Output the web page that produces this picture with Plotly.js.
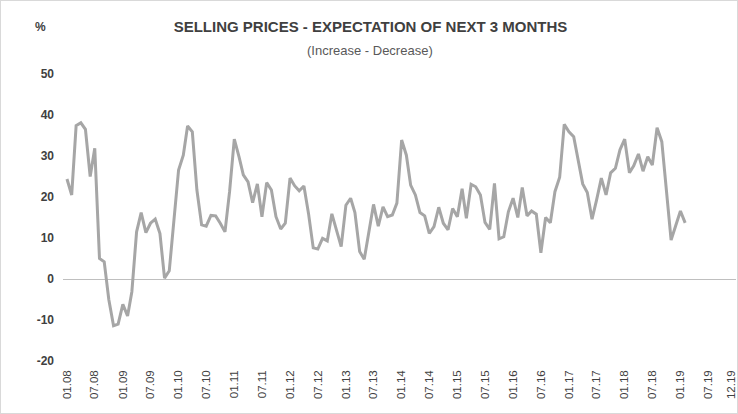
<!DOCTYPE html>
<html>
<head>
<meta charset="utf-8">
<script src="https://cdn.plot.ly/plotly-3.0.1.min.js"></script>
<style>
  html, body { margin: 0; padding: 0; background: #ffffff; }
  #wrap { width: 738px; height: 414px; box-sizing: border-box; border: 1px solid #d9d9d9; }
  #chart { width: 736px; height: 412px; }
</style>
</head>
<body>
<div id="wrap"><div id="chart"></div></div>
<script>
// Monthly series, Jan 2008 - Feb 2019 (% balance: Increase - Decrease)
const startYear = 2008;
const startMonth = 1;
const sellingPrices = [
  24.4, 20.5, 37.4, 38.1, 36.5, 25.0, 31.9, 5.0, 4.2, -5.0, -11.4, -11.0,
  -6.2, -9.0, -3.1, 11.5, 16.2, 11.3, 13.6, 14.6, 11.1, 0.2, 2.0, 14.5,
  26.6, 30.2, 37.3, 35.9, 21.7, 13.2, 12.9, 15.5, 15.4, 13.6, 11.5, 21.3,
  34.1, 29.8, 25.4, 23.7, 18.6, 23.2, 15.2, 23.5, 21.7, 15.2, 12.2, 13.6,
  24.6, 22.7, 21.5, 22.7, 16.0, 7.6, 7.3, 9.9, 9.3, 15.9, 12.0, 7.9,
  18.0, 19.7, 16.2, 6.7, 4.8, 11.1, 18.2, 12.9, 17.6, 15.2, 15.6, 18.5,
  33.9, 30.2, 22.9, 20.5, 16.2, 15.4, 11.1, 12.8, 17.5, 13.6, 12.0, 17.2,
  15.2, 22.0, 14.8, 23.1, 22.5, 20.5, 13.8, 12.1, 23.3, 9.8, 10.3, 16.4,
  19.7, 15.0, 22.3, 15.4, 16.6, 15.8, 6.4, 15.0, 13.7, 21.3, 24.8, 37.7,
  35.9, 34.7, 29.0, 23.2, 21.1, 14.6, 19.3, 24.6, 20.5, 25.9, 27.0, 31.5,
  34.1, 25.9, 27.6, 30.5, 26.3, 29.8, 27.8, 36.9, 33.5, 22.5, 9.5, 13.0,
  16.6, 13.7
];
const tickDates = [
  '2008-01-01','2008-07-01','2009-01-01','2009-07-01','2010-01-01','2010-07-01',
  '2011-01-01','2011-07-01','2012-01-01','2012-07-01','2013-01-01','2013-07-01',
  '2014-01-01','2014-07-01','2015-01-01','2015-07-01','2016-01-01','2016-07-01',
  '2017-01-01','2017-07-01','2018-01-01','2018-07-01','2019-01-01','2019-07-01',
  '2019-12-01'
];
const tickLabels = [
  '01.08','07.08','01.09','07.09','01.10','07.10','01.11','07.11','01.12','07.12',
  '01.13','07.13','01.14','07.14','01.15','07.15','01.16','07.16','01.17','07.17',
  '01.18','07.18','01.19','07.19','12.19'
];
const yTicks = [-20, -10, 0, 10, 20, 30, 40, 50];
const titleText = 'SELLING PRICES - EXPECTATION OF NEXT 3 MONTHS';
const subtitleText = '(Increase - Decrease)';
const unitText = '%';

// month dates (x categories)
const months = sellingPrices.map((_, i) => {
  const m = startMonth - 1 + i;
  const y = startYear + Math.floor(m / 12);
  const mm = (m % 12) + 1;
  return y + '-' + String(mm).padStart(2, '0') + '-01';
});

const FONT = 'Liberation Sans, Arial, sans-serif';

const trace = {
  x: months,
  y: sellingPrices,
  type: 'scatter',
  mode: 'lines',
  line: { color: '#a6a6a6', width: 3 },
  hoverinfo: 'skip'
};

const layout = {
  width: 736,
  height: 412,
  margin: { l: 62, r: 1, t: 73, b: 52 },
  paper_bgcolor: '#ffffff',
  plot_bgcolor: '#ffffff',
  showlegend: false,
  font: { family: FONT, color: '#404040' },
  title: {
    text: titleText,
    font: { family: FONT, size: 15, color: '#404040', weight: 'bold' },
    xref: 'container', x: 0.502, xanchor: 'center',
    yref: 'container', y: 1 - 26 / 412, yanchor: 'middle'
  },
  annotations: [
    {
      text: subtitleText, xref: 'paper', yref: 'paper',
      x: (369 - 62) / 673, y: 1 + (73 - 49) / 287, xanchor: 'center', yanchor: 'middle',
      showarrow: false,
      font: { family: FONT, size: 13, color: '#595959' }
    },
    {
      text: unitText, xref: 'paper', yref: 'paper',
      x: (39 - 62) / 673, y: 1 + (73 - 26) / 287, xanchor: 'center', yanchor: 'middle',
      showarrow: false,
      font: { family: FONT, size: 12, color: '#404040', weight: 'bold' }
    }
  ],
  xaxis: {
    type: 'date',
    range: ['2007-12-06', '2019-12-31'],
    tickmode: 'array',
    tickvals: tickDates,
    ticktext: tickLabels,
    tickangle: -90,
    ticks: '',
    ticklabelstandoff: 6,
    ticklabeloverflow: 'allow',
    showgrid: false,
    zeroline: false,
    showline: false,
    tickfont: { family: FONT, size: 11.5, color: '#404040' },
    fixedrange: true
  },
  yaxis: {
    range: [-20, 50],
    tickmode: 'array',
    tickvals: yTicks,
    ticktext: yTicks.map(String),
    ticks: '',
    ticklabelstandoff: 8,
    showgrid: false,
    zeroline: true,
    zerolinecolor: '#bfbfbf',
    zerolinewidth: 1,
    showline: false,
    tickfont: { family: FONT, size: 12, color: '#404040', weight: 'bold' },
    fixedrange: true
  }
};

Plotly.newPlot('chart', [trace], layout, { displayModeBar: false, staticPlot: true });
</script>
</body>
</html>
